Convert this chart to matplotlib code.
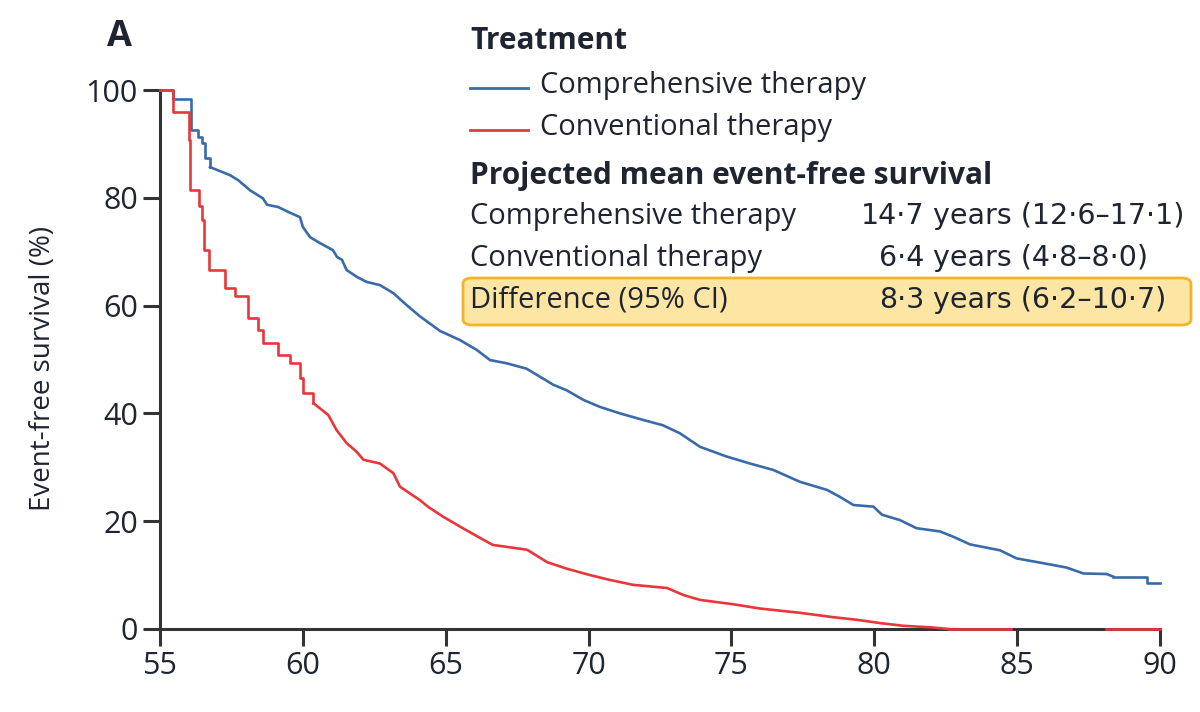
import numpy as np
import matplotlib
matplotlib.use("Agg")
import matplotlib.pyplot as plt
from matplotlib.lines import Line2D
from matplotlib.patches import FancyBboxPatch
from matplotlib import font_manager

# ---------------- data ----------------
blue_age = [55.0, 55.45, 56.07, 56.1, 56.33, 56.46, 56.58, 56.75, 57.45, 57.73,
            58.15, 58.6, 58.75, 59.13, 59.48, 59.9, 60.0, 60.25, 60.6, 61.05,
            61.2, 61.37, 61.53, 61.9, 62.23, 62.7, 63.17, 63.63, 64.1, 64.8,
            65.5, 66.08, 66.55, 67.13, 67.83, 68.3, 68.77, 69.23, 69.82, 70.4,
            71.1, 71.9, 72.6, 73.2, 73.9, 74.83, 75.65, 76.47, 77.4, 78.35,
            78.8, 79.27, 79.97, 80.27, 80.9, 81.48, 82.3, 82.77, 83.35, 84.4,
            84.98, 85.92, 86.73, 87.32, 88.13, 88.37, 89.53, 90.0]
blue_surv = [100.0, 98.4, 96.0, 92.6, 91.3, 90.2, 87.4, 85.7, 84.2, 83.3,
             81.4, 79.9, 78.7, 78.3, 77.4, 76.4, 74.6, 72.7, 71.6, 70.3,
             69.0, 68.5, 66.6, 65.3, 64.4, 63.8, 62.3, 60.1, 58.0, 55.3,
             53.6, 51.8, 49.9, 49.3, 48.3, 46.8, 45.3, 44.3, 42.5, 41.2,
             40.0, 38.8, 37.8, 36.3, 33.8, 32.0, 30.7, 29.5, 27.3, 25.8,
             24.5, 23.0, 22.7, 21.2, 20.2, 18.7, 18.1, 17.1, 15.7, 14.6,
             13.1, 12.2, 11.4, 10.3, 10.2, 9.7, 8.5, 8.5]

red_age = [55.0, 55.44, 56.0, 56.05, 56.38, 56.46, 56.54, 56.7, 57.28, 57.63,
           58.09, 58.44, 58.62, 59.14, 59.55, 59.9, 60.0, 60.37, 60.89, 61.18,
           61.53, 61.88, 62.12, 62.7, 63.17, 63.4, 64.1, 64.4, 64.92, 65.5,
           66.2, 66.65, 67.85, 68.55, 69.23, 70.05, 70.75, 71.55, 72.75, 73.32,
           73.9, 75.05, 76.0, 77.4, 78.55, 79.4, 80.2, 81.0, 82.0, 82.6,
           84.8, 88.1, 90.0]
red_surv = [100.0, 95.9, 90.7, 81.4, 78.4, 75.9, 70.3, 66.6, 63.2, 61.7,
            57.7, 55.5, 53.0, 50.8, 49.3, 46.5, 43.7, 41.9, 39.7, 36.9,
            34.5, 32.9, 31.4, 30.7, 28.9, 26.4, 23.9, 22.6, 20.8, 19.0,
            16.9, 15.6, 14.7, 12.4, 11.2, 10.0, 9.1, 8.2, 7.6, 6.3,
            5.4, 4.6, 3.8, 3.0, 2.2, 1.7, 1.1, 0.6, 0.3, 0.0,
            np.nan, 0.0, 0.0]

x_ticks = [55, 60, 65, 70, 75, 80, 85, 90]
y_ticks = [0, 20, 40, 60, 80, 100]

series_names = ["Comprehensive therapy", "Conventional therapy"]
mean_values = ["14·7", "6·4"]
mean_ci = ["years (12·6–17·1)", "years (4·8–8·0)"]
diff_label = "Difference (95% CI)"
diff_value = "8·3"
diff_ci = "years (6·2–10·7)"

# ---------------- style ----------------
avail = {f.name for f in font_manager.fontManager.ttflist}
fam = "Open Sans" if "Open Sans" in avail else "DejaVu Sans"
plt.rcParams["font.family"] = [fam, "DejaVu Sans"]

BLUE = "#3a6aa8"
RED = "#e8363a"
TXT = "#1e2430"
AXC = "#333333"

W, H = 1200, 712
fig = plt.figure(figsize=(12, 7.12), dpi=100)
ax = fig.add_axes([160 / W, 1 - 629 / H, 1000 / W, (629 - 90) / H])
ax.set_facecolor("none")


def draw_km(ages, surv, color, step_until, tail_from):
    """Coarse early stairs and the tail drawn as steps; dense middle as a line."""
    a = np.asarray(ages, float)
    s = np.asarray(surv, float)
    kw = dict(color=color, lw=1.9, zorder=3, clip_on=False)
    m1 = a <= step_until
    ax.step(a[m1], s[m1], where="post", **kw)
    m2 = (a >= step_until) & (a <= tail_from)
    ax.plot(a[m2], s[m2], **kw)
    m3 = a >= tail_from
    ax.step(a[m3], s[m3], where="post", **kw)


draw_km(blue_age, blue_surv, BLUE, 56.75, 88.37)
draw_km(red_age, red_surv, RED, 60.37, 82.6)

ax.set_xlim(55, 90)
ax.set_ylim(0, 100)
ax.set_xticks(x_ticks)
ax.set_yticks(y_ticks)
for s in ["top", "right"]:
    ax.spines[s].set_visible(False)
for s in ["left", "bottom"]:
    ax.spines[s].set_color(AXC)
    ax.spines[s].set_linewidth(2.2)
    ax.spines[s].set_zorder(2.5)
ax.tick_params(axis="both", direction="out", length=12, width=2.2, color=AXC,
               labelsize=22, labelcolor=TXT, pad=4)
ax.set_ylabel("Event-free survival (%)", fontsize=20, color=TXT)
ax.yaxis.set_label_coords(-103 / 1000, 0.484)


def fx(px):
    return px / W


def fy(py):
    return 1 - py / H


# panel letter
fig.text(fx(107), fy(37), "A", fontsize=26, fontweight="bold", color=TXT,
         ha="left", va="center")

# legend block
fig.text(fx(470), fy(41), "Treatment", fontsize=21.5, fontweight="bold", color=TXT,
         ha="left", va="center")
for yy, col, name in [(88, BLUE, series_names[0]), (130, RED, series_names[1])]:
    fig.add_artist(Line2D([fx(470), fx(528)], [fy(yy), fy(yy)], color=col, lw=2.0))
    fig.text(fx(540), fy(yy - 2), name, fontsize=21, color=TXT, ha="left", va="center")

fig.text(fx(470), fy(176), "Projected mean event-free survival", fontsize=21.5,
         fontweight="bold", color=TXT, ha="left", va="center")

box = FancyBboxPatch((fx(463), fy(325)), fx(1191) - fx(463), fy(278) - fy(325),
                     boxstyle="round,pad=0,rounding_size=0.008",
                     transform=fig.transFigure, facecolor="#fde5a4",
                     edgecolor="#f2b624", lw=2.0, zorder=1)
fig.add_artist(box)

VAL_FONT = ["DejaVu Sans"]
rows = [(216, series_names[0], mean_values[0], mean_ci[0]),
        (258, series_names[1], mean_values[1], mean_ci[1]),
        (300, diff_label, diff_value, diff_ci)]
for yy, lab, val, ci in rows:
    fig.text(fx(470), fy(yy), lab, fontsize=21, color=TXT, ha="left", va="center",
             zorder=4)
    fig.text(fx(924), fy(yy), val, fontsize=20.5, color=TXT, ha="right", va="center",
             family=VAL_FONT, zorder=4)
    fig.text(fx(933), fy(yy), ci, fontsize=20.5, color=TXT, ha="left", va="center",
             family=VAL_FONT, zorder=4)

fig.savefig("out.png", dpi=100, facecolor="white")
